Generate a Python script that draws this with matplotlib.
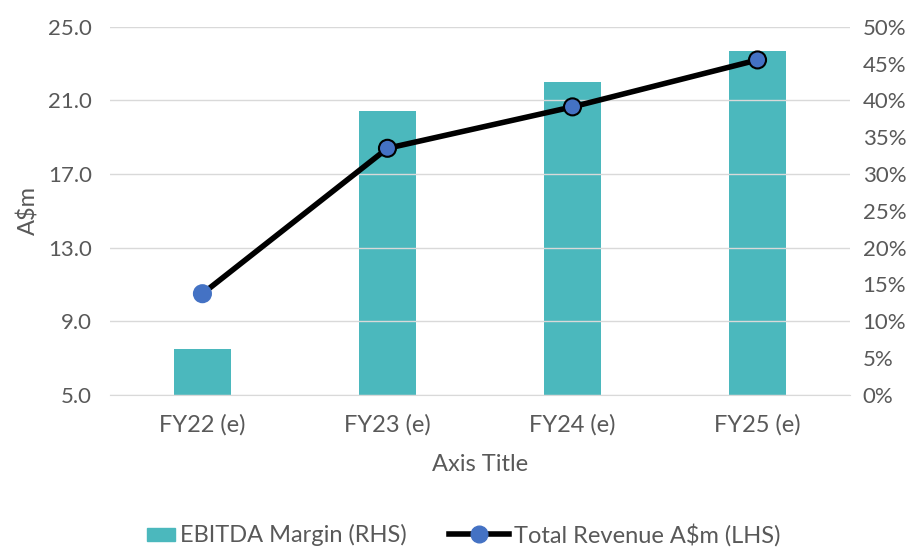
import numpy as np
import matplotlib.pyplot as plt
from matplotlib.lines import Line2D
from matplotlib.patches import Patch, Rectangle
from matplotlib.legend_handler import HandlerPatch

plt.rcParams['font.family'] = ['Lato', 'DejaVu Sans']

categories = ['FY22 (e)', 'FY23 (e)', 'FY24 (e)', 'FY25 (e)']
ebitda_margin = [6.25, 38.5, 42.5, 46.7]   # %, right axis
revenue = [10.5, 18.4, 20.65, 23.2]        # A$m, left axis

txt = '#595959'
bar_col = '#4BB8BD'
dot_col = '#4472C4'

fig = plt.figure(figsize=(9.16, 5.47), dpi=100)
ax = fig.add_axes([0.12, 0.278, 0.808, 0.673])
ax2 = ax.twinx()

x = np.arange(len(categories))

# bars on the right axis
ax2.bar(x, ebitda_margin, width=0.31, color=bar_col, zorder=2)
ax2.set_ylim(0, 50)
ax2.set_yticks(np.arange(0, 51, 5))
ax2.set_yticklabels([f'{v}%' for v in range(0, 51, 5)])

# line on the left axis, drawn above the bars
ax.set_zorder(ax2.get_zorder() + 1)
ax.patch.set_visible(False)
ax.plot(x, revenue, color='black', lw=4, zorder=3)
ax.scatter(x, revenue, s=150, color=dot_col,
           edgecolors=[dot_col, 'black', 'black', 'black'], linewidths=1.5, zorder=4)
ax.set_ylim(5, 25)
ax.set_yticks(np.arange(5, 26, 4))
ax.set_yticklabels([f'{v:.1f}' for v in np.arange(5, 26, 4)])
ax.set_xlim(-0.5, 3.5)
ax.set_xticks(x)
ax.set_xticklabels(categories)

ax.grid(axis='y', color='#D9D9D9', lw=1)
ax.set_axisbelow(True)
for a in (ax, ax2):
    for s in a.spines.values():
        s.set_visible(False)
    a.tick_params(length=0, labelsize=16, colors=txt)
ax.spines['bottom'].set_visible(True)
ax.spines['bottom'].set_color('#D9D9D9')
ax.tick_params(axis='x', pad=14, labelsize=17)
ax.tick_params(axis='y', pad=13)
ax2.tick_params(axis='y', pad=9)

ax.set_ylabel('A$m', fontsize=17, color=txt, labelpad=6)
ax.set_xlabel('Axis Title', fontsize=17, color=txt, labelpad=13)


def small_box(legend, orig_handle, xdescent, ydescent, width, height, fontsize):
    w, h = 20, 9.5
    return Rectangle((-xdescent + width - w, -ydescent + (height - h) / 2), w, h)


handles = [Patch(color=bar_col),
           Line2D([0], [0], color='black', lw=4, marker='o', ms=12,
                  markerfacecolor=dot_col, markeredgecolor=dot_col)]
fig.legend(handles, ['EBITDA Margin (RHS)', 'Total Revenue A$m (LHS)'],
           loc='center', bbox_to_anchor=(0.489, 0.022), ncol=2, frameon=False,
           fontsize=17, labelcolor=txt, handlelength=2.53,
           columnspacing=1.8, handletextpad=0.21,
           handler_map={Patch: HandlerPatch(patch_func=small_box)})

fig.savefig('out.png', dpi=100)
